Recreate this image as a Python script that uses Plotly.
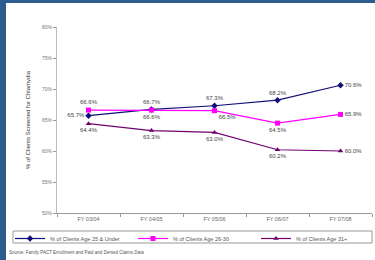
import plotly.graph_objects as go

years = ["FY 03/04", "FY 04/05", "FY 05/06", "FY 06/07", "FY 07/08"]
age25 = [65.7, 66.7, 67.3, 68.2, 70.6]
age26_30 = [66.6, 66.6, 66.5, 64.5, 65.9]
age31 = [64.4, 63.3, 63.0, 60.2, 60.0]
names = ["% of Clients Age 25 & Under", "% of Clients Age 26-30", "% of Clients Age 31+"]
yticks = [50, 55, 60, 65, 70, 75, 80]

pos25 = ["middle left", "top center", "top center", "top center", "middle right"]
pos26 = ["top center", "bottom center", "bottom right", "bottom center", "middle right"]
pos31 = ["bottom center", "bottom center", "bottom center", "bottom center", "middle right"]

W, H = 375, 260
L, R, T, B = 57, 3, 27, 47
pw, ph = W - L - R, H - T - B

def px2x(px):
    return (px - L) / pw

def py2y(py):
    return (H - B - py) / ph

fig = go.Figure()
series = [
    (age25, names[0], "#10107a", "diamond", 5, pos25),
    (age26_30, names[1], "#ff00ff", "square", 5, pos26),
    (age31, names[2], "#700070", "triangle-up", 5, pos31),
]
for vals, nm, col, sym, sz, pos in series:
    fig.add_trace(go.Scatter(
        x=years, y=vals, name=nm, mode="lines+markers+text",
        line=dict(color=col, width=1.2),
        marker=dict(symbol=sym, size=sz, color=col),
        text=[f"{v:.1f}%" for v in vals], textposition=pos,
        textfont=dict(size=6, color="#444444", family="Liberation Sans"),
        cliponaxis=False,
    ))

# white card over blue frame
fig.add_shape(type="rect", xref="paper", yref="paper",
              x0=px2x(6), x1=px2x(W + 5), y0=py2y(H + 5), y1=py2y(3),
              fillcolor="white", line_width=0, layer="below")
# legend box
fig.add_shape(type="rect", xref="paper", yref="paper",
              x0=px2x(13), x1=px2x(372), y0=py2y(243), y1=py2y(231),
              fillcolor="rgba(0,0,0,0)", line=dict(color="#999999", width=1), layer="above")

fig.add_annotation(text="Source: Family PACT Enrollment and Paid and Denied Claims Data",
                   xref="paper", yref="paper", x=px2x(7), y=py2y(252),
                   xanchor="left", yanchor="middle", showarrow=False,
                   font=dict(size=4.5, color="#555555", family="Liberation Sans"))

fig.update_layout(
    width=W, height=H,
    margin=dict(l=L, r=R, t=T, b=B, autoexpand=False),
    paper_bgcolor="#2b5d8e", plot_bgcolor="white",
    font=dict(family="Liberation Sans", size=6, color="#666666"),
    showlegend=True,
    legend=dict(orientation="h", x=px2x(10), y=py2y(224), xanchor="left", yanchor="top",
                bgcolor="rgba(0,0,0,0)", borderwidth=0, entrywidth=78, itemwidth=30,
                font=dict(size=5.5, color="#555555", family="Liberation Sans"),
                tracegroupgap=0),
    xaxis=dict(range=[-0.5, 4.5], showline=True, linecolor="#999999", linewidth=1,
               ticks="outside", ticklen=3, tickcolor="#999999", tickson="boundaries",
               showgrid=False, zeroline=False,
               tickfont=dict(size=5.5, color="#666666")),
    yaxis=dict(range=[50, 80], tickvals=yticks, ticktext=[f"{v}%" for v in yticks],
               showline=True, linecolor="#bbbbbb", linewidth=1,
               ticks="outside", ticklen=3, tickcolor="#999999",
               showgrid=False, zeroline=False,
               tickfont=dict(size=5, color="#777777"),
               title=dict(text="% of Clients Screened for Chlamydia", standoff=10,
                          font=dict(size=6, color="#333333"))),
)

fig.write_html("out.html", config={"displayModeBar": False},
               post_script="document.body.style.margin='0';document.body.style.overflow='hidden';")
